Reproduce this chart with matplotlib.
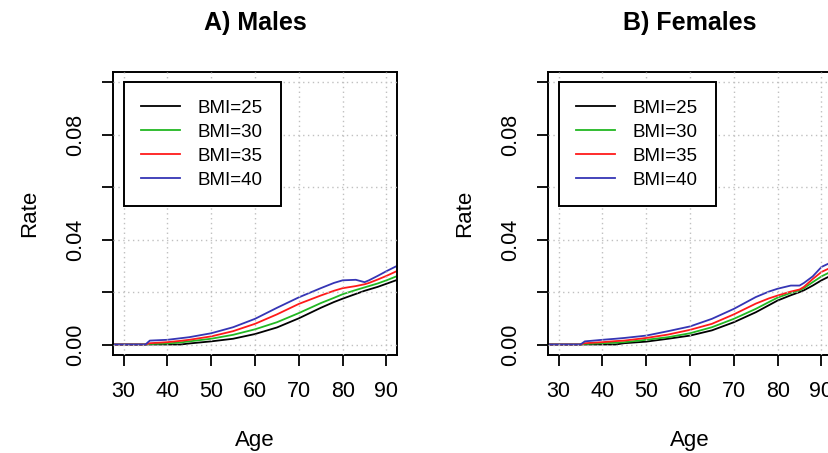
import matplotlib
matplotlib.use("Agg")
import matplotlib.pyplot as plt

plt.rcParams['font.family'] = ['Liberation Sans', 'DejaVu Sans']

# Age grid shared by all curves
ages = [25, 34, 35, 36, 40, 43, 45, 50, 55, 60, 65, 70, 75, 78, 80, 83, 85, 86, 88, 90, 93]

# Males: rate by BMI level
male_bmi25 = [0, 0, 0, 0, 0, 0, 0.0004, 0.0012, 0.0022, 0.0040, 0.0065, 0.0100, 0.0140, 0.0162, 0.0175, 0.0193, 0.0205, 0.0210, 0.0220, 0.0232, 0.0250]
male_bmi30 = [0, 0, 0, 0.0002, 0.0004, 0.0008, 0.0012, 0.0022, 0.0037, 0.0058, 0.0085, 0.0120, 0.0158, 0.0178, 0.0192, 0.0208, 0.0218, 0.0223, 0.0233, 0.0245, 0.0265]
male_bmi35 = [0, 0, 0, 0.0005, 0.0009, 0.0014, 0.0018, 0.0031, 0.0051, 0.0079, 0.0115, 0.0155, 0.0187, 0.0205, 0.0215, 0.0223, 0.0230, 0.0235, 0.0248, 0.0262, 0.0285]
male_bmi40 = [0, 0, 0, 0.0015, 0.0018, 0.0024, 0.0028, 0.0043, 0.0066, 0.0098, 0.0140, 0.0180, 0.0215, 0.0235, 0.0245, 0.0247, 0.0238, 0.0245, 0.0262, 0.0280, 0.0305]

# Females: rate by BMI level
female_bmi25 = [0, 0, 0, 0, 0, 0, 0.0005, 0.0011, 0.0022, 0.0034, 0.0054, 0.0085, 0.0123, 0.0150, 0.0168, 0.0188, 0.0200, 0.0207, 0.0225, 0.0245, 0.0270]
female_bmi30 = [0, 0, 0, 0.0002, 0.0005, 0.0007, 0.0009, 0.0018, 0.0028, 0.0043, 0.0066, 0.0098, 0.0136, 0.0162, 0.0179, 0.0197, 0.0207, 0.0215, 0.0238, 0.0260, 0.0285]
female_bmi35 = [0, 0, 0, 0.0005, 0.0009, 0.0013, 0.0015, 0.0025, 0.0038, 0.0056, 0.0079, 0.0115, 0.0156, 0.0176, 0.0187, 0.0202, 0.0210, 0.0220, 0.0250, 0.0277, 0.0300]
female_bmi40 = [0, 0, 0, 0.0012, 0.0018, 0.0022, 0.0025, 0.0034, 0.0051, 0.0069, 0.0098, 0.0136, 0.0181, 0.0202, 0.0213, 0.0225, 0.0225, 0.0235, 0.0260, 0.0296, 0.0320]

bmi_labels = ["BMI=25", "BMI=30", "BMI=35", "BMI=40"]
line_colors = ["#000000", "#22b822", "#ff1a1a", "#3535b5"]

x_ticks = [30, 40, 50, 60, 70, 80, 90]
y_ticks = [0.00, 0.02, 0.04, 0.06, 0.08, 0.10]
y_ticklabels = ["0.00", "", "0.04", "", "0.08", ""]

panels = [
    ("A) Males", [male_bmi25, male_bmi30, male_bmi35, male_bmi40]),
    ("B) Females", [female_bmi25, female_bmi30, female_bmi35, female_bmi40]),
]

W, H = 829, 453
fig = plt.figure(figsize=(W / 100, H / 100), dpi=100)

axes_left_px = [113, 548]
ax_w_px, ax_top_px, ax_bot_px = 284, 72, 355

for (title, series), left_px in zip(panels, axes_left_px):
    ax = fig.add_axes([left_px / W, 1 - ax_bot_px / H, ax_w_px / W, (ax_bot_px - ax_top_px) / H])
    for vals, lab, col in zip(series, bmi_labels, line_colors):
        ax.plot(ages, vals, color=col, lw=1.3, label=lab, zorder=2)

    # R-style extended ranges (4% padding on each side)
    xr = 90 - 30
    ax.set_xlim(30 - 0.04 * xr, 90 + 0.04 * xr)
    ax.set_ylim(-0.004, 0.104)

    ax.set_xticks(x_ticks)
    ax.set_xticklabels([str(t) for t in x_ticks])
    ax.set_yticks(y_ticks)
    ax.set_yticklabels(y_ticklabels, rotation=90, va="center")

    ax.set_axisbelow(False)
    ax.grid(True, color="#c0c0c0", linestyle=(0, (1, 2.5)), lw=1.0)

    for sp in ax.spines.values():
        sp.set_linewidth(1.4)
        sp.set_color("black")

    ax.tick_params(direction="out", length=8, width=1.3, labelsize=15.5, pad=11,
                   top=False, right=False)

    ax.set_title(title, fontsize=18, fontweight="bold", pad=30)
    ax.set_xlabel("Age", fontsize=16, labelpad=20)
    ax.set_ylabel("Rate", fontsize=16, labelpad=18)

    leg = ax.legend(loc="upper left", bbox_to_anchor=(30, 0.1002),
                    bbox_transform=ax.transData, borderaxespad=0,
                    fontsize=13.5, handlelength=2.05, handletextpad=0.95,
                    borderpad=0.95, labelspacing=0.36, fancybox=False,
                    framealpha=1, edgecolor="black")
    leg.get_frame().set_linewidth(1.4)
    leg.set_zorder(5)

fig.savefig("out.png", dpi=100)
